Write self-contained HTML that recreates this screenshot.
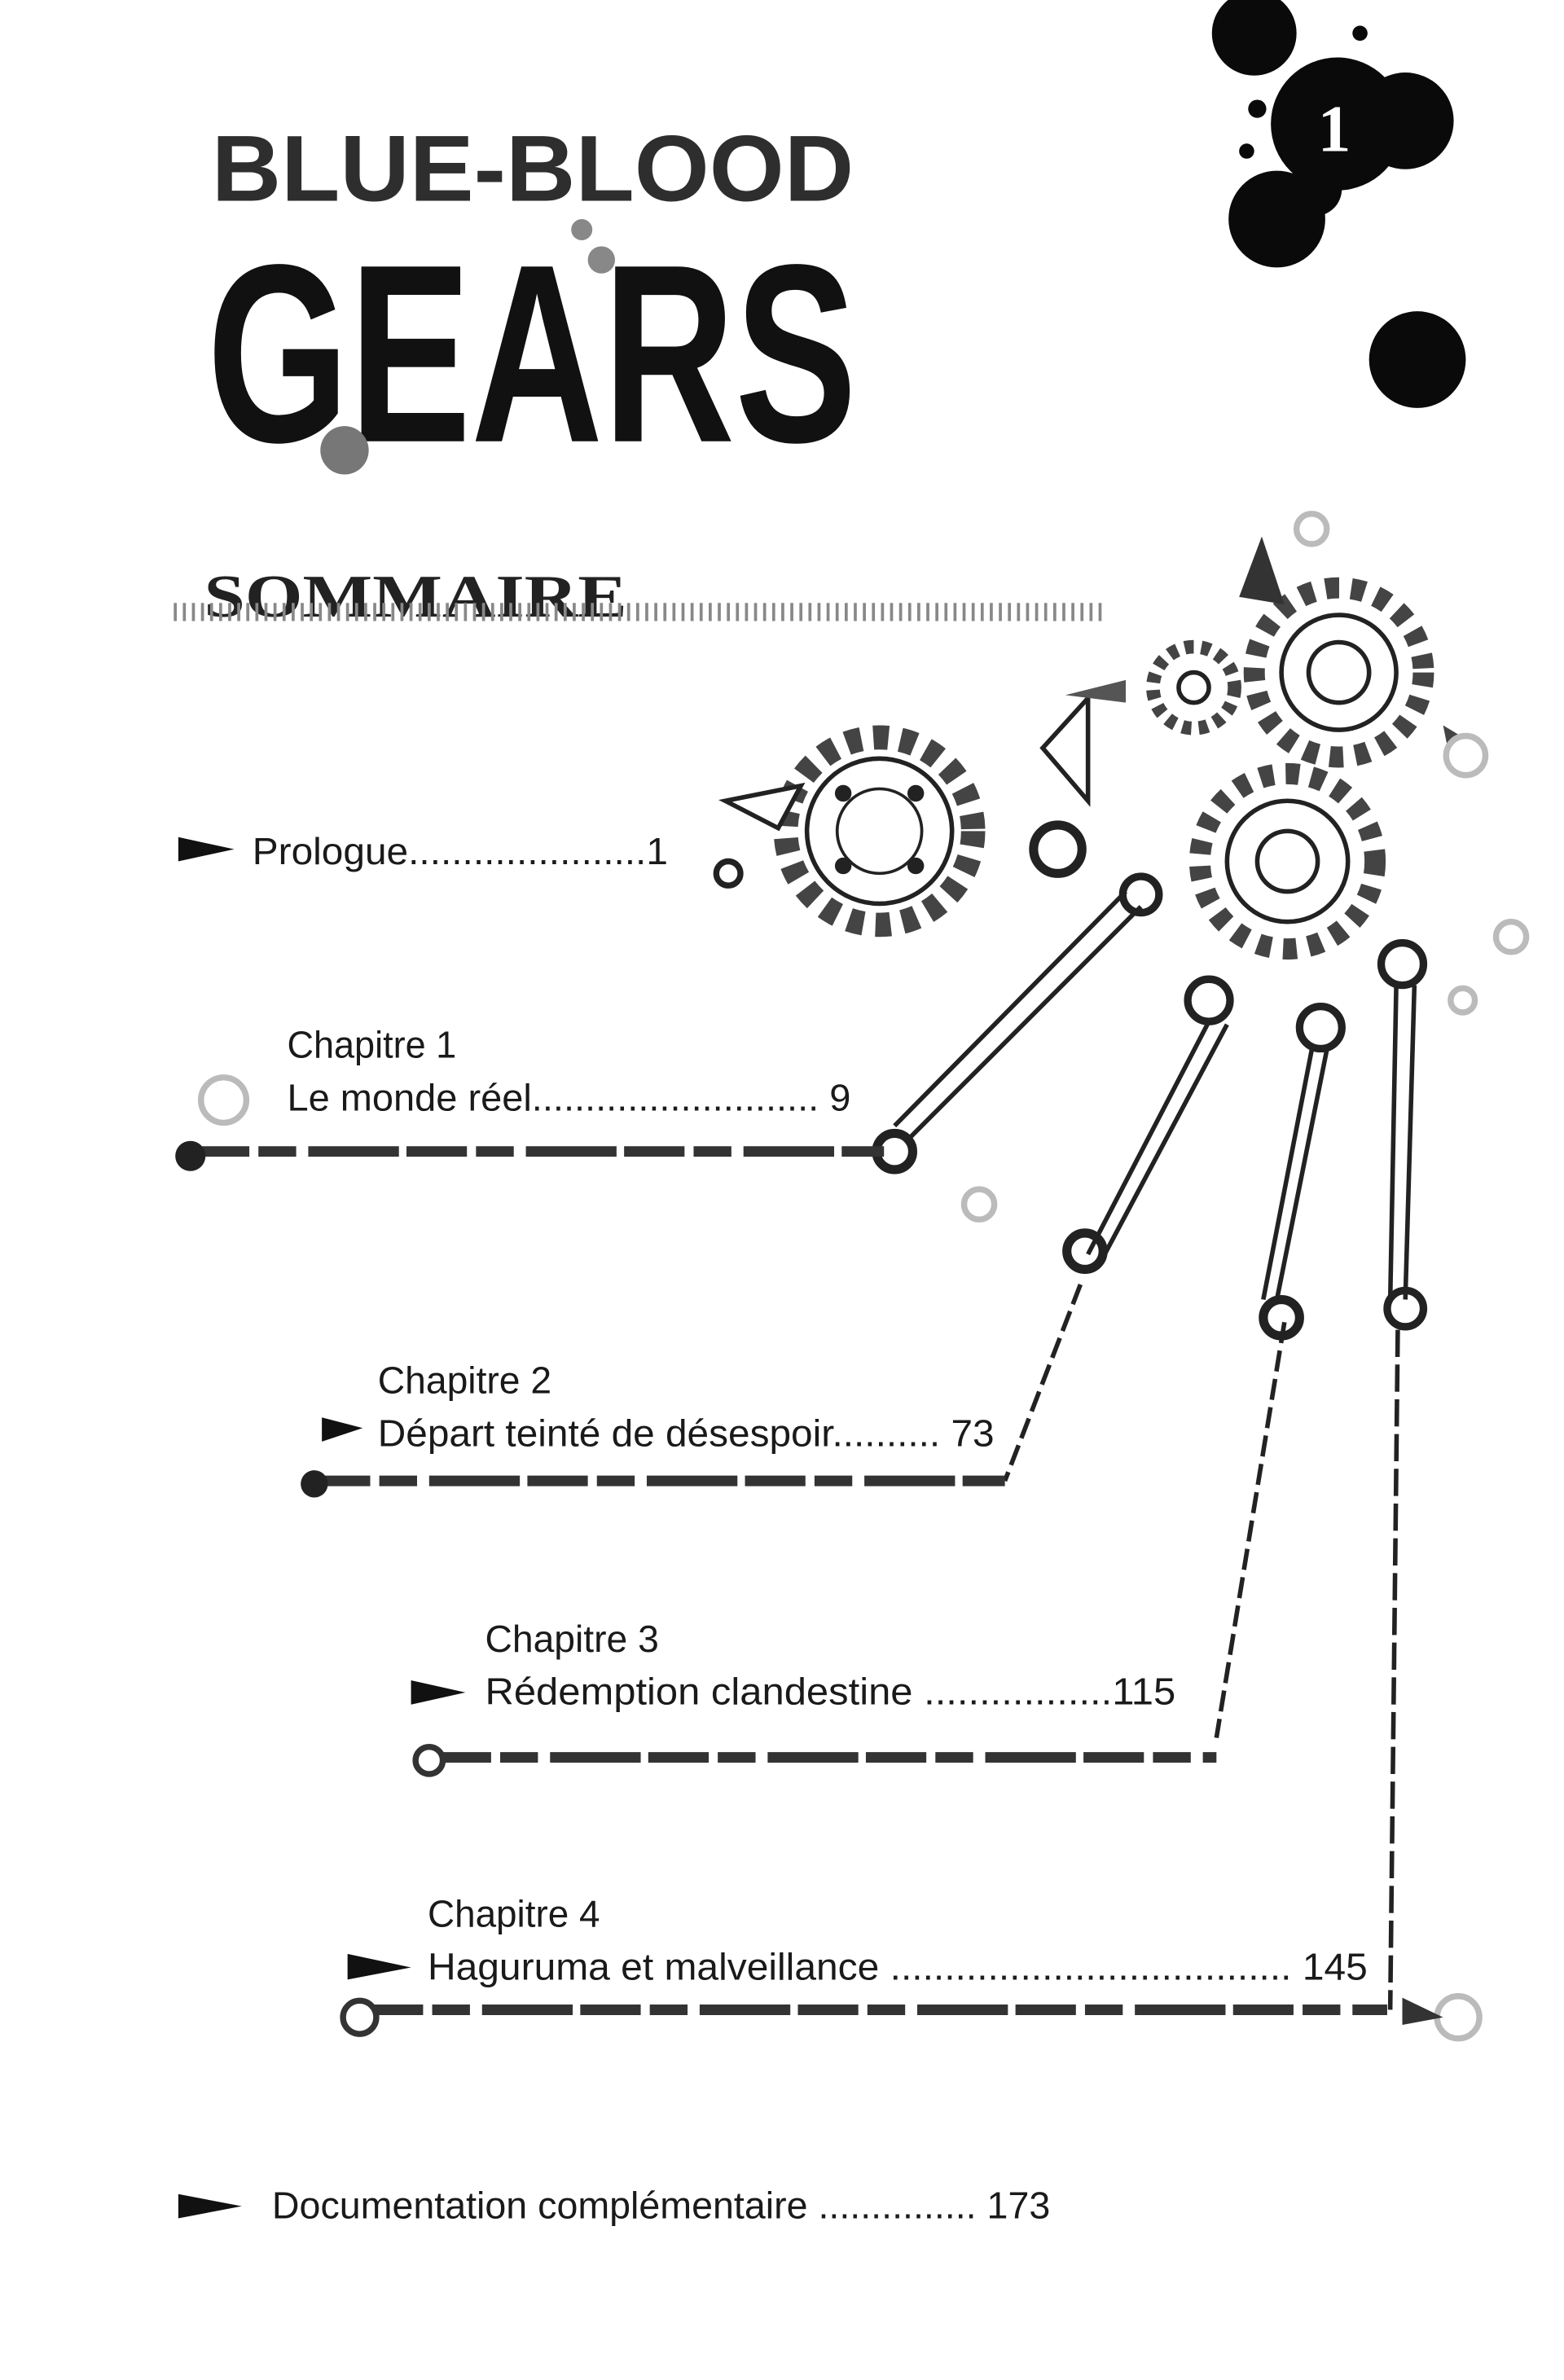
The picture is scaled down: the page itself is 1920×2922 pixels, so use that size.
<!DOCTYPE html>
<html><head><meta charset="utf-8"><style>
html,body{margin:0;padding:0;background:#fff;}
svg{display:block;}
.t{font-family:"Liberation Sans",sans-serif;fill:#1a1a1a;}
</style></head><body>
<svg width="1920" height="2922" viewBox="0 0 1035 1575" preserveAspectRatio="none" xmlns="http://www.w3.org/2000/svg">
<rect width="1035" height="1575" fill="#fff"/>
<!-- title -->
<text x="140" y="133" class="t" font-size="62" font-weight="bold" fill="#2a2a2a" textLength="425" lengthAdjust="spacingAndGlyphs" style="fill:#2e2e2e">BLUE-BLOOD</text>
<text x="137" y="292" class="t" font-size="168" font-weight="bold" textLength="430" lengthAdjust="spacingAndGlyphs" style="fill:#111">GEARS</text>
<circle cx="228" cy="298" r="16" fill="#777"/>
<circle cx="385" cy="152" r="7" fill="#888"/>
<circle cx="398" cy="172" r="9" fill="#888"/>
<!-- ink splats -->
<g fill="#0a0a0a">
<circle cx="830" cy="22" r="28"/><circle cx="885" cy="82" r="44"/><circle cx="930" cy="80" r="32"/>
<circle cx="845" cy="145" r="32"/><circle cx="870" cy="125" r="18"/><circle cx="938" cy="238" r="32"/>
<circle cx="832" cy="72" r="6"/><circle cx="825" cy="100" r="5"/><circle cx="900" cy="22" r="5"/>
</g>
<text x="872" y="100" font-family="Liberation Serif,serif" font-size="44" font-weight="bold" fill="#fff">1</text>
<!-- sommaire -->
<text x="135" y="408" font-family="Liberation Serif,serif" font-size="40" font-weight="bold" fill="#222" textLength="280" lengthAdjust="spacingAndGlyphs">SOMMAIRE</text>
<line x1="115" y1="405" x2="732" y2="405" stroke="#888" stroke-width="12" stroke-dasharray="2 4"/>
<!-- gears -->
<g fill="none" stroke="#222">
<circle cx="582" cy="550" r="62" stroke-width="16" stroke-dasharray="10 8" stroke="#444"/>
<circle cx="582" cy="550" r="48" stroke-width="3" fill="#fff"/>
<circle cx="582" cy="550" r="28" stroke-width="2"/>
<circle cx="558" cy="525" r="5" fill="#222"/><circle cx="606" cy="525" r="5" fill="#222"/>
<circle cx="558" cy="573" r="5" fill="#222"/><circle cx="606" cy="573" r="5" fill="#222"/>
<circle cx="852" cy="570" r="58" stroke-width="14" stroke-dasharray="9 8" stroke="#444"/>
<circle cx="852" cy="570" r="40" stroke-width="3" fill="#fff"/><circle cx="852" cy="570" r="20" stroke-width="3"/>
<circle cx="886" cy="445" r="56" stroke-width="14" stroke-dasharray="9 8" stroke="#444"/>
<circle cx="886" cy="445" r="38" stroke-width="3" fill="#fff"/><circle cx="886" cy="445" r="20" stroke-width="3"/>
<circle cx="790" cy="455" r="27" stroke-width="9" stroke-dasharray="6 5" stroke="#444"/>
<circle cx="790" cy="455" r="10" stroke-width="3"/>
<circle cx="700" cy="562" r="16" stroke-width="6"/>
<circle cx="482" cy="578" r="8" stroke-width="4"/>
</g>
<polygon points="690,495 720,462 720,530" fill="#fff" stroke="#222" stroke-width="3"/>
<polygon points="480,530 530,520 515,548" fill="#fff" stroke="#222" stroke-width="3"/>
<polygon points="820,395 835,355 850,400" fill="#333"/>
<polygon points="955,480 980,495 960,505" fill="#444"/>
<polygon points="705,460 745,450 745,465" fill="#555"/>
<!-- connector rods -->
<g stroke="#222" fill="none" stroke-width="3">
<path d="M755,600 L600,755"/><path d="M745,590 L592,745"/>
<circle cx="755" cy="592" r="12" stroke-width="5"/>
<circle cx="800" cy="662" r="14" stroke-width="5"/>
<circle cx="874" cy="680" r="14" stroke-width="5"/>
<circle cx="928" cy="638" r="14" stroke-width="5"/>
<path d="M800,676 L720,830 M812,678 L730,832"/>
<path d="M878,695 L845,860 M868,695 L836,860"/>
<path d="M936,652 L930,860 M924,652 L920,860"/>
<path d="M715,850 L665,980" stroke-dasharray="14 5"/>
<path d="M850,875 L805,1150" stroke-dasharray="14 5"/>
<path d="M925,880 L920,1330" stroke-dasharray="18 5"/>
<circle cx="718" cy="828" r="12" stroke-width="6"/>
<circle cx="848" cy="872" r="12" stroke-width="6"/>
<circle cx="930" cy="866" r="12" stroke-width="5"/>
<circle cx="592" cy="762" r="12" stroke-width="6"/>
</g>
<!-- white glows -->
<g fill="#fff" stroke="#bbb" stroke-width="4">
<circle cx="148" cy="728" r="15"/><circle cx="970" cy="500" r="13"/><circle cx="1000" cy="620" r="10"/>
<circle cx="968" cy="662" r="8"/><circle cx="648" cy="797" r="10"/><circle cx="965" cy="1335" r="14"/>
<circle cx="868" cy="350" r="10"/>
</g>
<!-- chapter lines -->
<g stroke="#333" stroke-width="7" stroke-dasharray="40 6 25 8 60 5">
<line x1="125" y1="762" x2="585" y2="762"/>
<line x1="205" y1="980" x2="665" y2="980"/>
<line x1="285" y1="1163" x2="805" y2="1163"/>
<line x1="240" y1="1330" x2="918" y2="1330"/>
</g>
<circle cx="126" cy="765" r="10" fill="#222"/>
<circle cx="208" cy="982" r="9" fill="#222"/>
<circle cx="284" cy="1165" r="9" fill="#fff" stroke="#333" stroke-width="4"/>
<circle cx="238" cy="1335" r="11" fill="#fff" stroke="#333" stroke-width="4"/>
<polygon points="928,1322 955,1335 928,1340" fill="#333"/>
<!-- arrows -->
<g fill="#111">
<polygon points="118,554 155,562 118,570"/>
<polygon points="213,938 240,945 213,954"/>
<polygon points="272,1112 308,1120 272,1128"/>
<polygon points="230,1293 272,1302 230,1310"/>
<polygon points="118,1452 160,1460 118,1468"/>
</g>
<!-- text -->
<g class="t" font-size="25">
<text x="167" y="572" textLength="275" lengthAdjust="spacingAndGlyphs">Prologue......................1</text>
<text x="190" y="700" textLength="112" lengthAdjust="spacingAndGlyphs">Chapitre 1</text>
<text x="190" y="735" textLength="373" lengthAdjust="spacingAndGlyphs">Le monde réel........................... 9</text>
<text x="250" y="922" textLength="115" lengthAdjust="spacingAndGlyphs">Chapitre 2</text>
<text x="250" y="957" textLength="408" lengthAdjust="spacingAndGlyphs">Départ teinté de désespoir.......... 73</text>
<text x="321" y="1093" textLength="115" lengthAdjust="spacingAndGlyphs">Chapitre 3</text>
<text x="321" y="1128" textLength="457" lengthAdjust="spacingAndGlyphs">Rédemption clandestine .................115</text>
<text x="283" y="1275" textLength="114" lengthAdjust="spacingAndGlyphs">Chapitre 4</text>
<text x="283" y="1310" textLength="622" lengthAdjust="spacingAndGlyphs">Haguruma et malveillance ..................................... 145</text>
<text x="180" y="1468" textLength="515" lengthAdjust="spacingAndGlyphs">Documentation complémentaire ............... 173</text>
</g>
</svg>
</body></html>
